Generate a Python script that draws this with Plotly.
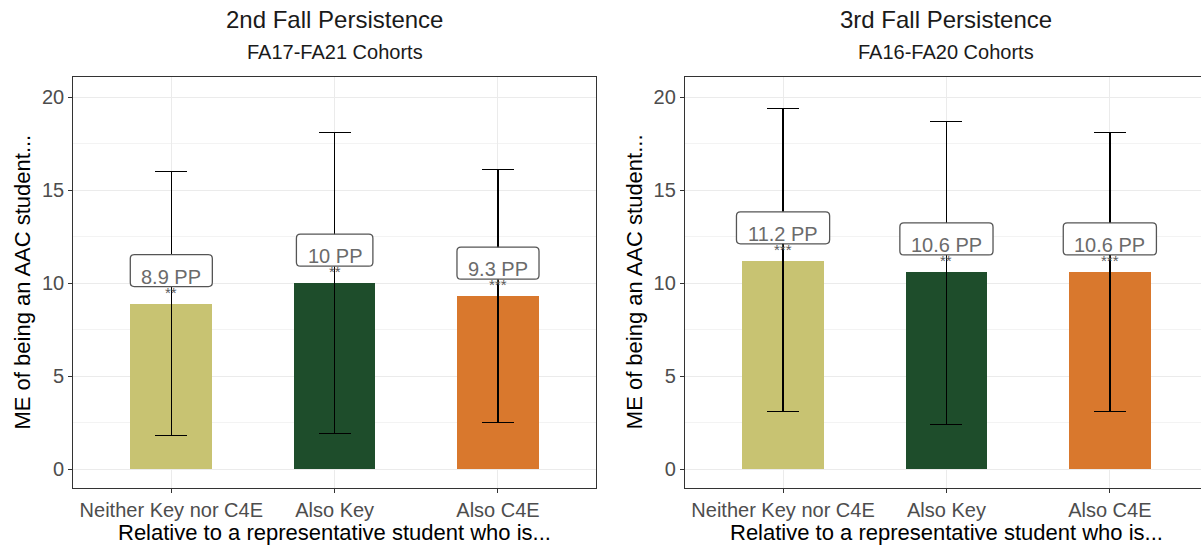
import plotly.graph_objects as go

# Shared categories and palette
categories = ["Neither Key nor C4E", "Also Key", "Also C4E"]
bar_colors = ["#C8C372", "#1E4D2B", "#D9782D"]

# 2nd fall persistence (FA17-FA21 cohorts): marginal effects with CI bounds
fall2_me = [8.9, 10.0, 9.3]
fall2_lower = [1.8, 1.9, 2.5]
fall2_upper = [16.0, 18.1, 16.1]
fall2_stars = ["**", "**", "***"]

# 3rd fall persistence (FA16-FA20 cohorts)
fall3_me = [11.2, 10.6, 10.6]
fall3_lower = [3.1, 2.4, 3.1]
fall3_upper = [19.4, 18.7, 18.1]
fall3_stars = ["***", "**", "***"]

y_ticks = [0, 5, 10, 15, 20]

FONT = "Liberation Sans"
W, H = 1201, 546
LABEL_SIZE = 20

# Advance widths (em) of the glyphs used in the value labels
GLYPH_EM = {".": 0.278, " ": 0.278, "P": 0.667}


def text_px(s, size):
    return sum(GLYPH_EM.get(c, 0.556) for c in s) * size


def rounded_box(w, y0, y1, r=4):
    """Rounded rectangle path in pixels, centred horizontally on its anchor."""
    x0, x1 = -w / 2, w / 2
    return (f"M{x0 + r},{y0} L{x1 - r},{y0} Q{x1},{y0} {x1},{y0 + r} "
            f"L{x1},{y1 - r} Q{x1},{y1} {x1 - r},{y1} L{x0 + r},{y1} "
            f"Q{x0},{y1} {x0},{y1 - r} L{x0},{y0 + r} Q{x0},{y0} {x0 + r},{y0} Z")


panels = [
    dict(title="2nd Fall Persistence", subtitle="FA17-FA21 Cohorts",
         me=fall2_me, lo=fall2_lower, hi=fall2_upper, stars=fall2_stars,
         xa="x", ya="y"),
    dict(title="3rd Fall Persistence", subtitle="FA16-FA20 Cohorts",
         me=fall3_me, lo=fall3_lower, hi=fall3_upper, stars=fall3_stars,
         xa="x2", ya="y2"),
]

fig = go.Figure()
xpos = [1, 2, 3]
annotations = []
shapes = []

for p in panels:
    fig.add_trace(go.Bar(
        x=xpos, y=p["me"], width=0.5,
        marker=dict(color=bar_colors, line=dict(width=0)),
        error_y=dict(type="data", symmetric=False,
                     array=[h - m for h, m in zip(p["hi"], p["me"])],
                     arrayminus=[m - l for m, l in zip(p["me"], p["lo"])],
                     color="black", thickness=1.4, width=16),
        xaxis=p["xa"], yaxis=p["ya"], showlegend=False, hoverinfo="skip",
    ))
    # significance stars sit just above each bar, under the value label
    for x, v, s in zip(xpos, p["me"], p["stars"]):
        annotations.append(dict(
            x=x, y=v, xref=p["xa"], yref=p["ya"], text=s, showarrow=False,
            yanchor="bottom", yshift=1, font=dict(family=FONT, size=15, color="#5A5A5A"),
        ))
    # value labels: rounded white box plus text
    for x, v in zip(xpos, p["me"]):
        label = f"{v:g} PP"
        shapes.append(dict(
            type="path", xref=p["xa"], yref=p["ya"],
            xsizemode="pixel", ysizemode="pixel", xanchor=x, yanchor=v,
            path=rounded_box(text_px(label, LABEL_SIZE) + 22, 17, 49),
            fillcolor="white", line=dict(color="#555555", width=1.3), layer="above",
        ))
        annotations.append(dict(
            x=x, y=v, xref=p["xa"], yref=p["ya"], text=label, showarrow=False,
            yanchor="bottom", yshift=14,
            font=dict(family=FONT, size=LABEL_SIZE, color="#6B6B6B"),
        ))
    # panel titles
    annotations.append(dict(
        x=2, y=1 - 20 / H, xref=p["xa"], yref="paper", text=p["title"],
        showarrow=False, yanchor="middle", font=dict(family=FONT, size=24, color="#1A1A1A"),
    ))
    annotations.append(dict(
        x=2, y=1 - 52 / H, xref=p["xa"], yref="paper", text=p["subtitle"],
        showarrow=False, yanchor="middle", font=dict(family=FONT, size=20, color="#1A1A1A"),
    ))
    # axis titles
    annotations.append(dict(
        x=2, y=0, xref=p["xa"], yref=p["ya"] + " domain",
        text="Relative to a representative student who is...", showarrow=False,
        yanchor="middle", yshift=-45, font=dict(family=FONT, size=22, color="black"),
    ))
    annotations.append(dict(
        x=0, y=0.5, xref=p["xa"] + " domain", yref=p["ya"] + " domain",
        text="ME of being an AAC student...", showarrow=False, textangle=-90,
        xanchor="center", xshift=-51, font=dict(family=FONT, size=22, color="black"),
    ))

grid = "#EBEBEB"
line_col = "#333333"

common_x = dict(
    tickvals=xpos, ticktext=categories, showgrid=True, gridcolor=grid, gridwidth=1,
    showline=True, linecolor=line_col, linewidth=1.3, mirror=True,
    ticks="outside", ticklen=4, tickcolor=line_col, tickwidth=1.2,
    tickfont=dict(family=FONT, size=20, color="#4D4D4D"), zeroline=False,
    fixedrange=True,
)
common_y = dict(
    range=[-1.0, 21.1], tickvals=y_ticks, showgrid=True, gridcolor=grid, gridwidth=1.1,
    minor=dict(tickmode="linear", tick0=2.5, dtick=5, showgrid=True,
               gridcolor="#F3F3F3", gridwidth=0.6),
    showline=True, linecolor=line_col, linewidth=1.3,
    ticks="outside", ticklen=4, tickcolor=line_col, tickwidth=1.2,
    tickfont=dict(family=FONT, size=20, color="#4D4D4D"), zeroline=False,
    fixedrange=True,
)

ydom = [1 - 487.7 / H, 1 - 76.7 / H]
fig.update_layout(
    width=W, height=H, margin=dict(l=0, r=0, t=0, b=0),
    paper_bgcolor="white", plot_bgcolor="white",
    font=dict(family=FONT),
    xaxis=dict(common_x, domain=[73.3 / W, 596 / W], range=[0.4, 3.6], anchor="y"),
    yaxis=dict(common_y, domain=ydom, mirror=True, anchor="x"),
    xaxis2=dict(common_x, domain=[685 / W, 1], range=[0.4, 0.4 + (W - 685) / 163.4], anchor="y2"),
    yaxis2=dict(common_y, domain=ydom, mirror=False, anchor="x2"),
    annotations=annotations,
    shapes=shapes,
    bargap=0,
)

fig.write_html("out.html")
